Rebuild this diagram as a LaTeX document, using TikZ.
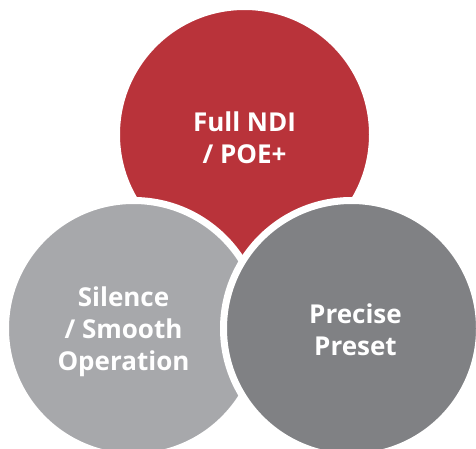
\documentclass[tikz,border=0pt]{standalone}
\usepackage{fontspec}
\setmainfont{Open Sans}
\usepackage{tikz}
\usetikzlibrary{positioning}
\definecolor{ndired}{HTML}{B9333A}
\definecolor{lightgrey}{HTML}{A7A8AB}
\definecolor{darkgrey}{HTML}{808184}

\begin{document}
\begin{tikzpicture}[x=1pt, y=-1pt]
	\tikzstyle{disc} = [circle, draw=white, line width=7pt, minimum size=256pt, inner sep=0pt, outer sep=0pt];
	\tikzstyle{caption} = [align=center, text=white, inner sep=0pt, font=\bfseries\fontsize{26}{32}\selectfont];
	
	\useasboundingbox (0,0) rectangle (476,449);
	
	\node[disc, fill=ndired](ndi) at (244.5,134.5){};
	\node[disc, fill=lightgrey](silence) at (133.5,328.5){};
	\node[disc, fill=darkgrey](preset) at (351.5,328.5){};
	
	\node[caption](ndi text) at ([yshift=-3pt]ndi.center){Full NDI \\ / POE+};
	\node[caption](silence text) at ([xshift=-10pt, yshift=-3pt]silence.center){Silence \\ / Smooth \\ Operation};
	\node[caption](preset text) at ([xshift=4pt, yshift=-1pt]preset.center){Precise \\ Preset};
\end{tikzpicture}
\end{document}
